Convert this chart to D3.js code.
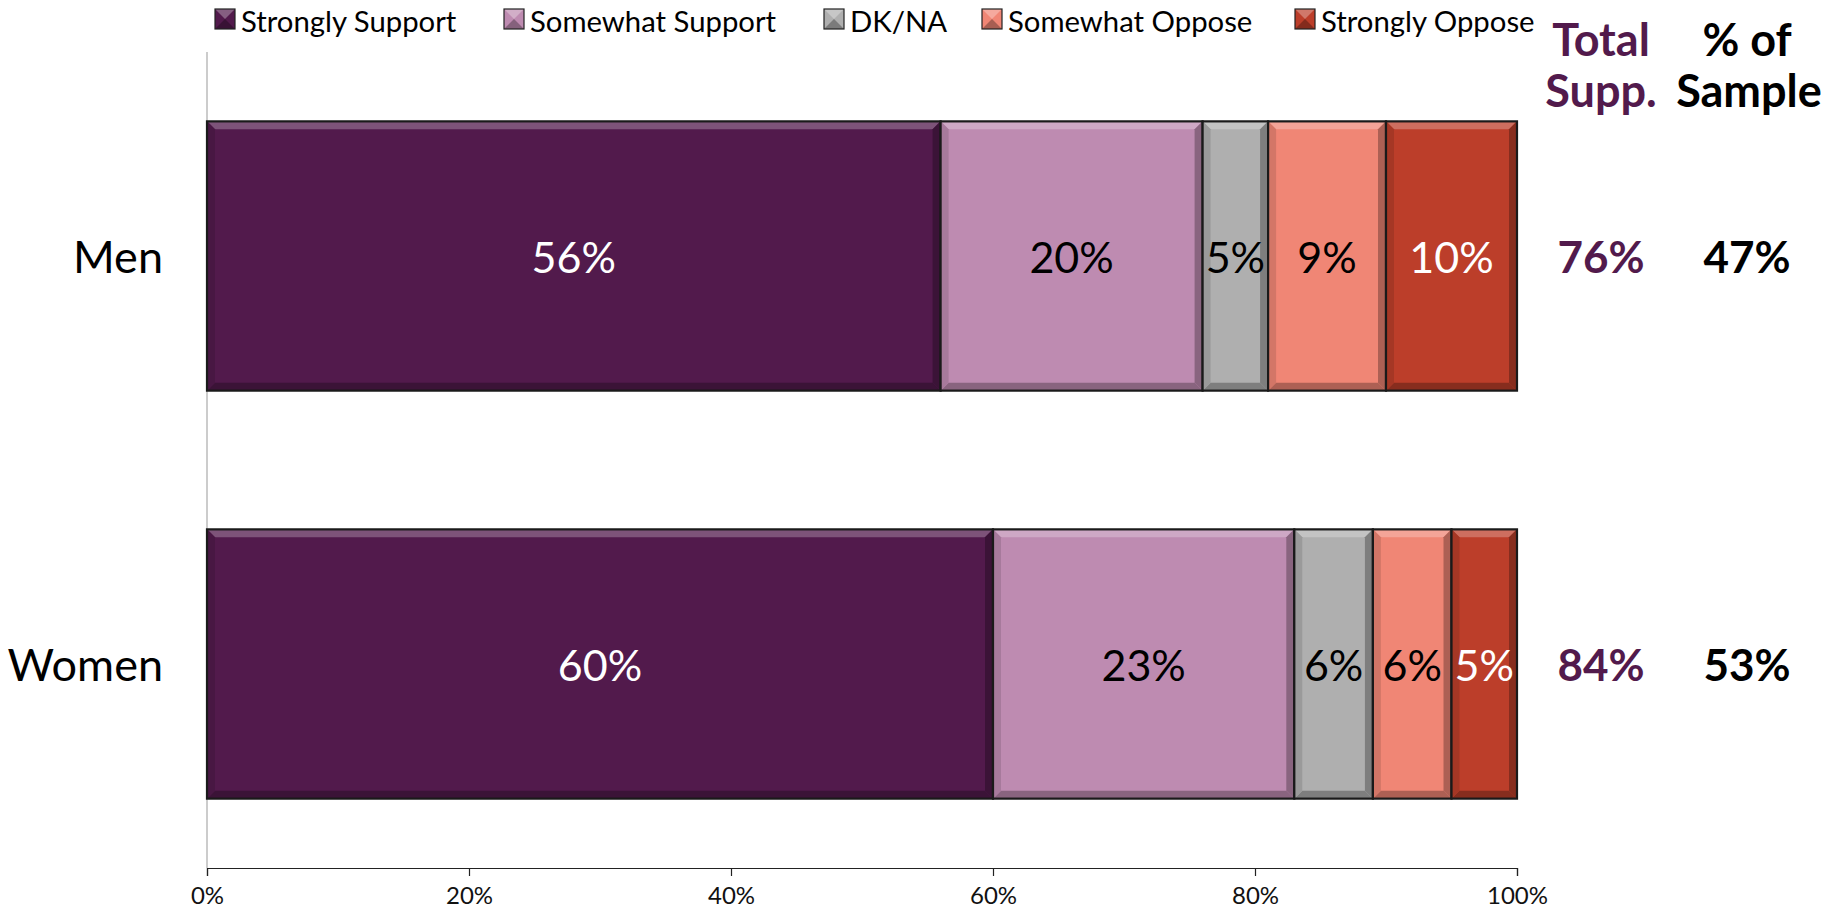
<!DOCTYPE html>
<html>
<head>
<meta charset="utf-8">
<script src="https://cdn.jsdelivr.net/npm/d3@7"></script>
<style>
  html, body { margin: 0; padding: 0; background: #fff; }
  svg { display: block; font-family: Lato, "Open Sans", sans-serif; }
</style>
</head>
<body>
<svg id="chart" width="1826" height="919"></svg>
<script>
// ---- data ----
const categories = ["Men", "Women"];
const seriesNames = ["Strongly Support", "Somewhat Support", "DK/NA", "Somewhat Oppose", "Strongly Oppose"];
const strongSupport = [56, 60];
const somewhatSupport = [20, 23];
const dkna = [5, 6];
const somewhatOppose = [9, 6];
const strongOppose = [10, 5];
const totalSupport = ["76%", "84%"];
const pctSample = ["47%", "53%"];
const tickValues = [0, 20, 40, 60, 80, 100];

// ---- styles ----
const colors = ["#521A4C", "#BE8BB1", "#AFAFAF", "#F08675", "#BC3E2A"];
const labelColors = ["#fff", "#000", "#000", "#000", "#fff"];
const seriesValues = [strongSupport, somewhatSupport, dkna, somewhatOppose, strongOppose];

const svg = d3.select("#chart");
const margin = { left: 207, right: 309, top: 52, bottom: 51 };
const W = 1826, H = 919;

const x = d3.scaleLinear().domain([0, 100]).range([margin.left, W - margin.right]);
const y = d3.scalePoint().domain(categories).range([margin.top, H - margin.bottom]).padding(0.5);
const barH = y.step() * 0.66;

// stacked data
const rows = categories.map((c, i) => {
  const o = { cat: c };
  seriesNames.forEach((s, j) => o[s] = seriesValues[j][i]);
  return o;
});
const stacked = d3.stack().keys(seriesNames)(rows);

// axes
const axisG = svg.append("g").attr("transform", `translate(0,${H - margin.bottom})`);
axisG.call(d3.axisBottom(x).tickValues(tickValues).tickFormat(d => d + "%").tickSizeOuter(0).tickSize(8));
axisG.select(".domain").attr("stroke", "#222").attr("stroke-width", 1.2);
axisG.selectAll(".tick line").attr("stroke", "#222").attr("stroke-width", 1.2);
axisG.selectAll(".tick text").attr("font-size", 24).attr("font-family", "Lato, sans-serif")
  .attr("fill", "#111").attr("dy", "1.05em");

svg.append("line")
  .attr("x1", x(0)).attr("x2", x(0))
  .attr("y1", margin.top).attr("y2", H - margin.bottom)
  .attr("stroke", "#bbb").attr("stroke-width", 1.5);

// bars with bevel
const bev = 8;
stacked.forEach((layer, j) => {
  const base = d3.color(colors[j]);
  const light = d3.interpolateRgb(colors[j], "#ffffff")(0.25);
  const dark = d3.interpolateRgb(colors[j], "#000000")(0.28);
  const side = d3.interpolateRgb(colors[j], "#000000")(0.12);
  const g = svg.append("g").attr("class", "series");
  layer.forEach((d, i) => {
    const x0 = x(d[0]), x1 = x(d[1]);
    const yc = y(categories[i]);
    const y0 = yc - barH / 2, y1 = yc + barH / 2;
    const b = Math.min(bev, (x1 - x0) / 3);
    g.append("rect").attr("x", x0).attr("y", y0).attr("width", x1 - x0).attr("height", y1 - y0)
      .attr("fill", base);
    g.append("polygon").attr("points", [[x0, y0], [x1, y0], [x1 - b, y0 + b], [x0 + b, y0 + b]].join(" "))
      .attr("fill", light);
    g.append("polygon").attr("points", [[x0, y1], [x1, y1], [x1 - b, y1 - b], [x0 + b, y1 - b]].join(" "))
      .attr("fill", dark);
    g.append("polygon").attr("points", [[x0, y0], [x0 + b, y0 + b], [x0 + b, y1 - b], [x0, y1]].join(" "))
      .attr("fill", side);
    g.append("polygon").attr("points", [[x1, y0], [x1 - b, y0 + b], [x1 - b, y1 - b], [x1, y1]].join(" "))
      .attr("fill", dark);
    g.append("rect").attr("x", x0).attr("y", y0).attr("width", x1 - x0).attr("height", y1 - y0)
      .attr("fill", "none").attr("stroke", "#1a1a1a").attr("stroke-width", 2.2);
    g.append("text")
      .attr("x", (x0 + x1) / 2).attr("y", yc)
      .attr("text-anchor", "middle").attr("dominant-baseline", "central")
      .attr("font-size", 43).attr("fill", labelColors[j])
      .text(seriesValues[j][i] + "%");
  });
});

// category labels
svg.append("g").selectAll("text").data(categories).join("text")
  .attr("x", x(0) - 44).attr("y", d => y(d))
  .attr("text-anchor", "end").attr("dominant-baseline", "central")
  .attr("font-size", 45).attr("fill", "#000")
  .text(d => d);

// right columns
const colTotal = 1601, colSample = 1747;
svg.append("g").selectAll("text").data(totalSupport).join("text")
  .attr("x", colTotal).attr("y", (d, i) => y(categories[i]))
  .attr("text-anchor", "middle").attr("dominant-baseline", "central")
  .attr("font-size", 44).attr("font-weight", "bold").attr("fill", "#521A4C")
  .text(d => d);
svg.append("g").selectAll("text").data(pctSample).join("text")
  .attr("x", colSample).attr("y", (d, i) => y(categories[i]))
  .attr("text-anchor", "middle").attr("dominant-baseline", "central")
  .attr("font-size", 44).attr("font-weight", "bold").attr("fill", "#000")
  .text(d => d);

// headers
const h1 = svg.append("text").attr("x", colTotal).attr("text-anchor", "middle")
  .attr("font-size", 45).attr("font-weight", "bold").attr("fill", "#521A4C");
h1.append("tspan").attr("x", colTotal).attr("y", 56).text("Total");
h1.append("tspan").attr("x", colTotal).attr("y", 107).text("Supp.");
const h2 = svg.append("text").attr("x", colSample).attr("text-anchor", "middle")
  .attr("font-size", 45).attr("font-weight", "bold").attr("fill", "#000");
h2.append("tspan").attr("x", colSample).attr("y", 56).text("% of");
h2.append("tspan").attr("x", colSample + 2).attr("y", 107).text("Sample");

// legend
const legendX = [215, 504, 824, 982, 1295];
const lg = svg.append("g").selectAll("g").data(seriesNames).join("g")
  .attr("transform", (d, i) => `translate(${legendX[i]},9)`);
lg.each(function (d, i) {
  const g = d3.select(this);
  const s = 20;
  g.append("rect").attr("width", s).attr("height", s).attr("fill", colors[i]);
  g.append("polygon").attr("points", [[0, 0], [s, 0], [s / 2, s / 2]].join(" "))
    .attr("fill", d3.interpolateRgb(colors[i], "#fff")(0.3));
  g.append("polygon").attr("points", [[0, s], [s, s], [s / 2, s / 2]].join(" "))
    .attr("fill", d3.interpolateRgb(colors[i], "#000")(0.3));
  g.append("rect").attr("width", s).attr("height", s).attr("fill", "none")
    .attr("stroke", "#222").attr("stroke-width", 1.2);
  g.append("text").attr("x", 26).attr("y", s / 2 + 1).attr("dominant-baseline", "central")
    .attr("font-size", 29.3).attr("fill", "#000").text(d);
});
</script>
</body>
</html>
